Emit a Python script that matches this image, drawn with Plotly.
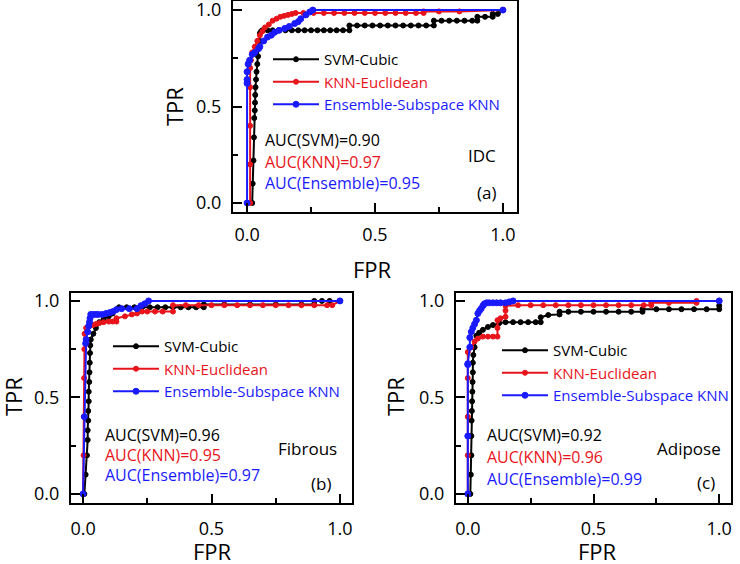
import plotly.graph_objects as go

# ---------------- data ----------------
# (a) IDC
idc_svm_fpr = [0.020, 0.022, 0.025, 0.027, 0.028, 0.030, 0.031, 0.032, 0.033, 0.035, 0.037, 0.040, 0.043, 0.045,
               0.047, 0.050, 0.055, 0.060, 0.080, 0.100, 0.125, 0.150, 0.175, 0.200, 0.225, 0.250, 0.275, 0.300,
               0.325, 0.350, 0.375, 0.400, 0.400, 0.430, 0.460, 0.490, 0.520, 0.550, 0.580, 0.610, 0.640, 0.670,
               0.700, 0.730, 0.730, 0.760, 0.790, 0.820, 0.850, 0.880, 0.900, 0.900, 0.930, 0.960, 0.960, 0.980, 1.000]
idc_svm_tpr = [0.000, 0.100, 0.220, 0.340, 0.440, 0.480, 0.520, 0.560, 0.600, 0.640, 0.680, 0.720, 0.760, 0.800,
               0.840, 0.880, 0.890, 0.895, 0.895, 0.895, 0.895, 0.895, 0.895, 0.895, 0.895, 0.895, 0.895, 0.895,
               0.895, 0.895, 0.895, 0.895, 0.920, 0.920, 0.920, 0.920, 0.920, 0.920, 0.920, 0.920, 0.920, 0.920,
               0.920, 0.920, 0.945, 0.945, 0.945, 0.945, 0.945, 0.945, 0.945, 0.965, 0.965, 0.965, 0.980, 0.980, 1.000]

idc_knn_fpr = [0.012, 0.012, 0.012, 0.012, 0.012, 0.015, 0.020, 0.030, 0.040, 0.050, 0.060, 0.070, 0.085, 0.100,
               0.115, 0.130, 0.145, 0.160, 0.175, 0.190, 0.220, 0.260, 0.300, 0.340, 0.380, 0.420, 0.460, 0.500,
               0.540, 0.580, 0.620, 0.660, 0.690, 0.690, 0.750, 0.830, 1.000]
idc_knn_tpr = [0.000, 0.200, 0.400, 0.600, 0.700, 0.740, 0.780, 0.810, 0.840, 0.870, 0.890, 0.910, 0.925, 0.945,
               0.955, 0.965, 0.970, 0.975, 0.980, 0.985, 0.985, 0.985, 0.985, 0.985, 0.985, 0.985, 0.985, 0.985,
               0.985, 0.985, 0.985, 0.985, 0.985, 0.993, 0.993, 0.993, 1.000]

idc_ens_fpr = [0.000, 0.000, 0.000, 0.000, 0.004, 0.010, 0.020, 0.030, 0.045, 0.050, 0.065, 0.080, 0.095, 0.108,
               0.125, 0.147, 0.165, 0.186, 0.200, 0.210, 0.230, 0.245, 0.257, 1.000]
idc_ens_tpr = [0.000, 0.620, 0.640, 0.680, 0.720, 0.740, 0.770, 0.780, 0.800, 0.810, 0.840, 0.860, 0.870, 0.885,
               0.895, 0.905, 0.915, 0.930, 0.940, 0.955, 0.975, 0.990, 1.000, 1.000]

# (b) Fibrous
fib_svm_fpr = [0.005, 0.010, 0.015, 0.018, 0.018, 0.020, 0.020, 0.022, 0.022, 0.024, 0.025, 0.026, 0.027, 0.028,
               0.030, 0.040, 0.050, 0.063, 0.080, 0.100, 0.115, 0.130, 0.140, 0.170, 0.200, 0.230, 0.260, 0.290,
               0.320, 0.350, 0.380, 0.410, 0.440, 0.470, 0.470, 0.550, 0.650, 0.750, 0.850, 0.900, 0.900, 0.930,
               0.960, 1.000]
fib_svm_tpr = [0.000, 0.100, 0.200, 0.280, 0.330, 0.380, 0.430, 0.480, 0.530, 0.580, 0.630, 0.680, 0.730, 0.770,
               0.800, 0.830, 0.860, 0.890, 0.905, 0.920, 0.935, 0.955, 0.967, 0.967, 0.967, 0.967, 0.967, 0.967,
               0.967, 0.967, 0.967, 0.967, 0.967, 0.967, 0.982, 0.982, 0.982, 0.982, 0.982, 0.982, 1.000, 1.000,
               1.000, 1.000]

fib_knn_fpr = [0.000, 0.002, 0.003, 0.004, 0.005, 0.006, 0.012, 0.025, 0.038, 0.050, 0.063, 0.080, 0.100, 0.115,
               0.130, 0.130, 0.163, 0.190, 0.210, 0.230, 0.250, 0.280, 0.310, 0.350, 0.350, 0.400, 0.450, 0.500,
               0.550, 0.600, 0.650, 0.700, 0.750, 0.800, 0.850, 0.900, 0.950, 0.970, 1.000]
fib_knn_tpr = [0.000, 0.200, 0.400, 0.600, 0.750, 0.830, 0.860, 0.870, 0.875, 0.880, 0.885, 0.890, 0.893, 0.893,
               0.893, 0.910, 0.920, 0.930, 0.935, 0.945, 0.945, 0.945, 0.945, 0.945, 0.978, 0.978, 0.978, 0.978,
               0.978, 0.978, 0.978, 0.978, 0.978, 0.978, 0.978, 0.978, 0.978, 0.978, 1.000]

fib_ens_fpr = [0.000, 0.005, 0.010, 0.012, 0.018, 0.022, 0.025, 0.027, 0.030, 0.040, 0.050, 0.060, 0.075, 0.090,
               0.105, 0.117, 0.130, 0.150, 0.180, 0.210, 0.225, 0.240, 0.255, 1.000]
fib_ens_tpr = [0.000, 0.400, 0.780, 0.800, 0.840, 0.870, 0.890, 0.910, 0.930, 0.930, 0.930, 0.930, 0.930, 0.935,
               0.940, 0.945, 0.955, 0.960, 0.960, 0.960, 0.975, 0.985, 1.000, 1.000]

# (c) Adipose
adi_svm_fpr = [0.010, 0.012, 0.014, 0.014, 0.015, 0.016, 0.017, 0.018, 0.019, 0.020, 0.020, 0.022, 0.027, 0.034,
               0.045, 0.060, 0.080, 0.100, 0.125, 0.150, 0.180, 0.210, 0.240, 0.270, 0.290, 0.290, 0.320, 0.365,
               0.365, 0.400, 0.450, 0.500, 0.550, 0.600, 0.650, 0.695, 0.695, 0.750, 0.800, 0.850, 0.900, 0.950,
               1.000, 1.000, 1.000]
adi_svm_tpr = [0.000, 0.100, 0.200, 0.300, 0.380, 0.430, 0.480, 0.530, 0.580, 0.630, 0.680, 0.720, 0.760, 0.820,
               0.835, 0.850, 0.865, 0.875, 0.885, 0.890, 0.890, 0.890, 0.890, 0.890, 0.890, 0.915, 0.927, 0.930,
               0.944, 0.944, 0.944, 0.944, 0.944, 0.944, 0.944, 0.944, 0.957, 0.957, 0.957, 0.957, 0.957, 0.957,
               0.957, 0.975, 1.000]

adi_knn_fpr = [0.000, 0.000, 0.000, 0.000, 0.000, 0.014, 0.027, 0.040, 0.060, 0.080, 0.100, 0.118, 0.118, 0.118,
               0.130, 0.150, 0.150, 0.150, 0.200, 0.250, 0.300, 0.350, 0.400, 0.450, 0.500, 0.550, 0.600, 0.650,
               0.700, 0.730, 0.730, 0.800, 0.910, 0.910, 1.000]
adi_knn_tpr = [0.000, 0.200, 0.400, 0.600, 0.735, 0.760, 0.790, 0.805, 0.815, 0.815, 0.815, 0.815, 0.860, 0.900,
               0.910, 0.918, 0.950, 0.975, 0.978, 0.978, 0.978, 0.978, 0.978, 0.978, 0.978, 0.978, 0.978, 0.978,
               0.978, 0.978, 0.990, 0.990, 0.990, 1.000, 1.000]

adi_ens_fpr = [0.000, 0.000, 0.000, 0.000, 0.008, 0.008, 0.014, 0.020, 0.027, 0.034, 0.040, 0.047, 0.053, 0.060,
               0.066, 0.075, 0.085, 0.100, 0.115, 0.130, 0.150, 0.165, 0.180, 1.000]
adi_ens_tpr = [0.000, 0.300, 0.670, 0.675, 0.760, 0.810, 0.840, 0.860, 0.880, 0.900, 0.935, 0.950, 0.960, 0.975,
               0.985, 0.990, 0.990, 0.990, 0.990, 0.990, 0.990, 0.995, 1.000, 1.000]

series_names = ["SVM-Cubic", "KNN-Euclidean", "Ensemble-Subspace KNN"]
series_colors = ["#000000", "#e8141b", "#1a1aff"]
panel_tissue = ["IDC", "Fibrous", "Adipose"]
panel_letter = ["(a)", "(b)", "(c)"]
auc_svm = ["0.90", "0.96", "0.92"]
auc_knn = ["0.97", "0.95", "0.96"]
auc_ens = ["0.95", "0.97", "0.99"]
x_title = "FPR"
y_title = "TPR"

panels = [
    [(idc_svm_fpr, idc_svm_tpr), (idc_knn_fpr, idc_knn_tpr), (idc_ens_fpr, idc_ens_tpr)],
    [(fib_svm_fpr, fib_svm_tpr), (fib_knn_fpr, fib_knn_tpr), (fib_ens_fpr, fib_ens_tpr)],
    [(adi_svm_fpr, adi_svm_tpr), (adi_knn_fpr, adi_knn_tpr), (adi_ens_fpr, adi_ens_tpr)],
]

# ---------------- layout geometry (pixels in a 740x564 page) ----------------
W, H = 740, 564
FONT = "Open Sans"


def px(x):
    return x / W


def py(y):
    return 1 - y / H


# plot boxes: left, right, top, bottom (px)
boxes = [(233, 517, 1, 212), (71, 352, 293, 503), (456, 731, 293, 503)]
xranges = [[-0.055, 1.055], [-0.047, 1.047], [-0.047, 1.047]]
yranges = [[-0.047, 1.047], [-0.047, 1.041], [-0.047, 1.041]]
xtick_standoff = [5, 8, 8]
# axis title centres (px)
xtitle_pos = [(373, 269), (212, 551), (597, 551)]
ytitle_pos = [(174, 107), (13, 397), (395, 397)]

fig = go.Figure()
legend_keys = ["legend", "legend2", "legend3"]
marker_sizes = [5, 5, 6]

for p, curves in enumerate(panels):
    xa = "x" if p == 0 else f"x{p + 1}"
    ya = "y" if p == 0 else f"y{p + 1}"
    for s, (fx, ty) in enumerate(curves):
        fig.add_trace(go.Scatter(
            x=fx, y=ty, xaxis=xa, yaxis=ya, mode="lines+markers",
            name=f"<span style='color:{series_colors[s]}'>{series_names[s]}</span>",
            line=dict(color=series_colors[s], width=2),
            marker=dict(symbol="circle", size=marker_sizes[s], color=series_colors[s],
                        line=dict(color=series_colors[s], width=1)),
            legend=legend_keys[p], showlegend=True,
        ))

layout = dict(
    width=W, height=H, margin=dict(l=0, r=0, t=0, b=0, autoexpand=False),
    paper_bgcolor="white", plot_bgcolor="white",
    font=dict(family=FONT, color="black"),
    showlegend=True,
)

axis_common = dict(
    showgrid=False, zeroline=False, showline=True, linecolor="black", linewidth=2, mirror=True,
    ticks="inside", ticklen=9, tickwidth=2, tickcolor="black", automargin=False,
    tick0=0, dtick=0.5, tickformat=".1f", ticklabeloverflow="allow",
    tickfont=dict(family=FONT, size=18, color="black"),
    minor=dict(dtick=0.25, ticks="inside", ticklen=5, tickwidth=2, tickcolor="black"),
)

for p, (l, r, t, b) in enumerate(boxes):
    xk = "xaxis" if p == 0 else f"xaxis{p + 1}"
    yk = "yaxis" if p == 0 else f"yaxis{p + 1}"
    ya = "y" if p == 0 else f"y{p + 1}"
    xa = "x" if p == 0 else f"x{p + 1}"
    layout[xk] = dict(axis_common, domain=[px(l), px(r)], range=xranges[p], anchor=ya,
                      ticklabelstandoff=xtick_standoff[p])
    layout[yk] = dict(axis_common, domain=[py(b), py(t)], range=yranges[p], anchor=xa,
                      ticklabelstandoff=6)

# legends (one per panel)
legend_pos = [(268, 43), (108, 330), (497, 334)]
for p, (lx, ly) in enumerate(legend_pos):
    layout[legend_keys[p]] = dict(
        x=px(lx), y=py(ly), xanchor="left", yanchor="top", xref="paper", yref="paper",
        bgcolor="rgba(0,0,0,0)", borderwidth=0, itemwidth=46,
        font=dict(family=FONT, size=15), tracegroupgap=0,
    )

fig.update_layout(**layout)

# axis titles
for p in range(3):
    (xx, xy), (yx, yy) = xtitle_pos[p], ytitle_pos[p]
    fig.add_annotation(x=px(xx), y=py(xy), xref="paper", yref="paper", text=x_title, showarrow=False,
                       xanchor="center", yanchor="middle", font=dict(family=FONT, size=22, color="black"))
    fig.add_annotation(x=px(yx), y=py(yy), xref="paper", yref="paper", text=y_title, showarrow=False,
                       textangle=-90, xanchor="center", yanchor="middle",
                       font=dict(family=FONT, size=22, color="black"))

# AUC and panel labels
auc_pos = [(263, 140, 162, 183), (103, 435, 455, 475), (485, 435, 457, 479)]
label_pos = [((498, 155), (498, 192)), ((339, 448), (333, 483)), ((723, 448), (717, 482))]
for p in range(3):
    ax, y1, y2, y3 = auc_pos[p]
    for txt, yy, col in [(f"AUC(SVM)={auc_svm[p]}", y1, series_colors[0]),
                         (f"AUC(KNN)={auc_knn[p]}", y2, series_colors[1]),
                         (f"AUC(Ensemble)={auc_ens[p]}", y3, series_colors[2])]:
        fig.add_annotation(x=px(ax), y=py(yy), xref="paper", yref="paper", text=txt, showarrow=False,
                           xanchor="left", yanchor="middle", font=dict(family=FONT, size=16, color=col))
    (tx, ty), (lx2, ly2) = label_pos[p]
    fig.add_annotation(x=px(tx), y=py(ty), xref="paper", yref="paper", text=panel_tissue[p], showarrow=False,
                       xanchor="right", yanchor="middle", font=dict(family=FONT, size=17, color="black"))
    fig.add_annotation(x=px(lx2), y=py(ly2), xref="paper", yref="paper", text=panel_letter[p], showarrow=False,
                       xanchor="right", yanchor="middle", font=dict(family=FONT, size=17, color="black"))

fig.write_html("out.html", config={"displayModeBar": False},
               post_script="document.body.style.margin='0';document.body.style.padding='0';")
